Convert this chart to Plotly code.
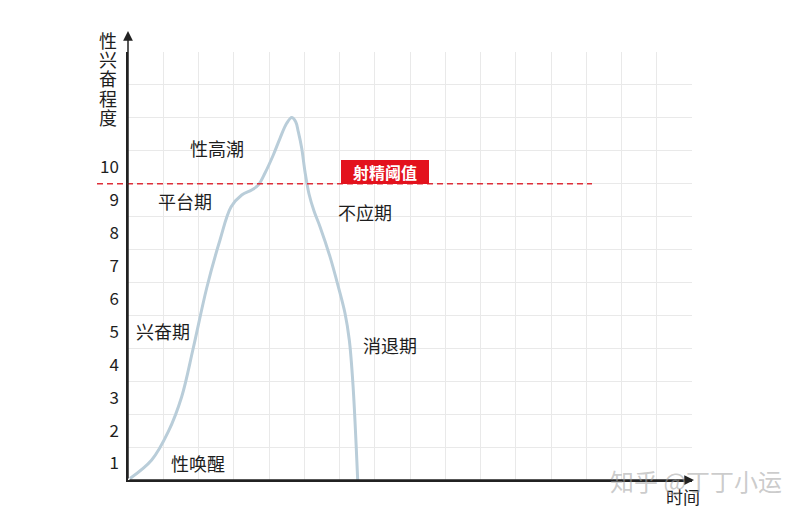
import plotly.graph_objects as go

# ---- data ----
time_x = [0.057, 0.672, 1.143, 1.523, 1.852, 2.233, 2.610, 2.922, 3.226, 3.509, 3.696, 3.887,
          4.122, 4.312, 4.502, 4.644, 4.757, 4.831, 4.928, 5.021, 5.135, 5.277, 5.447, 5.730,
          5.966, 6.156, 6.278, 6.383, 6.516]
arousal_y = [0.546, 1.107, 1.967, 3.030, 4.509, 6.332, 7.790, 8.792, 9.157, 9.308, 9.460, 9.825,
             10.372, 10.879, 11.334, 11.511, 11.383, 11.079, 10.575, 9.864, 9.187, 8.671, 8.194,
             7.283, 6.371, 5.563, 4.752, 3.386, 0.500]
y_tick_vals = [1, 2, 3, 4, 5, 6, 7, 8, 9, 10]
y_tick_text = ["1", "2", "3", "4", "5", "6", "7", "8", "9", "10"]
threshold = 9.5
threshold_label = "射精阈值"
phase_labels = ["性高潮", "平台期", "不应期", "兴奋期", "消退期", "性唤醒"]
phase_x = [2.52, 1.62, 6.72, 0.99, 7.43, 1.99]
phase_y = [10.585, 8.975, 8.64, 5.03, 4.60, 1.02]
y_title_chars = ["性", "兴", "奋", "程", "度"]
x_title = "时间"
watermark = "知乎 @丁丁小运"

FONT = "Noto Sans CJK SC"

# plot-area geometry in page pixels (page has an 8px body margin)
PL, PT, PW, PH = 128, 52, 564, 428


def px_to_paper(px, py):
    return (px - PL) / PW, (PT + PH - py) / PH


fig = go.Figure()
fig.add_trace(go.Scatter(
    x=time_x, y=arousal_y, mode="lines",
    line=dict(color="#b9cdd9", width=3, shape="spline", smoothing=1.0),
    hoverinfo="skip", showlegend=False))

# threshold dashed line
fig.add_shape(type="line", xref="paper", yref="y",
              x0=px_to_paper(97, 0)[0], x1=px_to_paper(592, 0)[0], y0=threshold, y1=threshold,
              line=dict(color="#de2f38", width=1.5, dash="6px,4px"))

ann = []
# threshold label box
ann.append(dict(x=7.28, y=threshold, xref="x", yref="y", text="<b>%s</b>" % threshold_label,
                showarrow=False, xanchor="center", yanchor="bottom",
                bgcolor="#e3121d", font=dict(color="white", size=16, family=FONT),
                width=86, height=22, borderpad=1, borderwidth=0))
# phase labels
for t, xx, yy in zip(phase_labels, phase_x, phase_y):
    ann.append(dict(x=xx, y=yy, xref="x", yref="y", text=t, showarrow=False,
                    xanchor="center", yanchor="middle",
                    font=dict(size=18, color="#1e1e1e", family=FONT)))
# y title stacked characters
for i, ch in enumerate(y_title_chars):
    ax_, ay_ = px_to_paper(108, 40 + i * 19.2)
    ann.append(dict(x=ax_, y=ay_, xref="paper", yref="paper", text=ch,
                    showarrow=False, xanchor="center", yanchor="middle",
                    font=dict(size=18, color="#1e1e1e", family=FONT)))
# x title
tx, ty = px_to_paper(683, 497)
ann.append(dict(x=tx, y=ty, xref="paper", yref="paper", text=x_title, showarrow=False,
                xanchor="center", yanchor="middle",
                font=dict(size=17, color="#1e1e1e", family=FONT)))
# axis arrows
ytip = px_to_paper(128, 31)
ann.append(dict(x=ytip[0], y=ytip[1], xref="paper", yref="paper", text="",
                showarrow=True, ax=0, ay=449, axref="pixel", ayref="pixel",
                arrowhead=2, arrowsize=1.3, arrowwidth=1.5, arrowcolor="#222222", standoff=0))
xtip = px_to_paper(694, 480)
ann.append(dict(x=xtip[0], y=xtip[1], xref="paper", yref="paper", text="",
                showarrow=True, ax=-566, ay=0, axref="pixel", ayref="pixel",
                arrowhead=2, arrowsize=1.3, arrowwidth=1.5, arrowcolor="#222222", standoff=0))
# watermark
wx, wy = px_to_paper(696, 481)
ann.append(dict(x=wx, y=wy, xref="paper", yref="paper",
                text=watermark, showarrow=False, xanchor="center", yanchor="middle",
                font=dict(size=24, color="rgba(160,160,160,0.55)", family=FONT)))

fig.update_layout(
    width=792, height=506,
    margin=dict(l=PL - 8, r=792 - (PL - 8) - PW, t=PT - 8, b=506 - (PT - 8) - PH),
    paper_bgcolor="white", plot_bgcolor="white",
    font=dict(family=FONT, color="#1e1e1e"),
    annotations=ann,
    showlegend=False,
    xaxis=dict(range=[0, 16], tick0=0, dtick=1, showgrid=True, gridcolor="#e9e9e9",
               gridwidth=1, showticklabels=False, ticks="", zeroline=False,
               showline=True, linecolor="#222222", linewidth=1.5, fixedrange=True),
    yaxis=dict(range=[0.5, 13.5], tickmode="array", tickvals=y_tick_vals, ticktext=y_tick_text,
               showgrid=False, ticks="", zeroline=False,
               tickfont=dict(size=17, color="#1e1e1e", family=FONT),
               ticklabelstandoff=4,
               minor=dict(tickmode="array", tickvals=[0.5 + k for k in range(14)],
                          showgrid=True, gridcolor="#e9e9e9", gridwidth=1, ticks=""),
               showline=True, linecolor="#222222", linewidth=1.5, fixedrange=True),
)

fig.write_html("out.html")
